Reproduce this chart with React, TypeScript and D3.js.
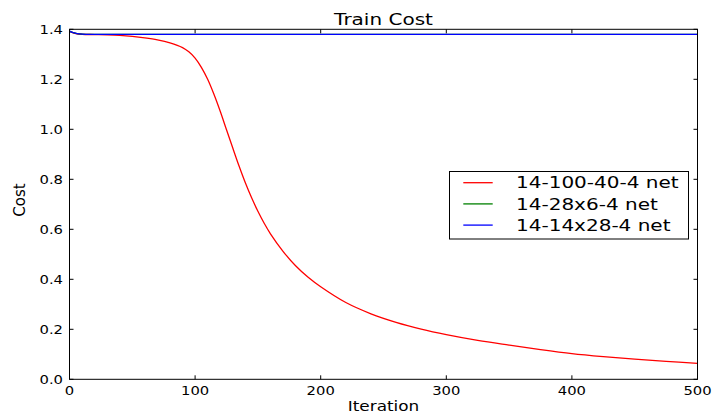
import * as d3 from 'd3';
import React, { useEffect, useRef } from 'react';

const seriesNames = ['14-100-40-4 net', '14-28x6-4 net', '14-14x28-4 net'];
const seriesColors = ['#ff0000', '#008000', '#0000ff'];

const redIter = [0, 5, 10, 20, 30, 40, 50, 60, 70, 80, 90, 95, 100, 105, 110, 115, 120, 125, 130, 135, 140, 145, 150, 155, 160, 170, 180, 190, 200, 220, 240, 260, 280, 300, 325, 350, 375, 400, 425, 450, 475, 500];
const redCost = [1.392, 1.383, 1.38, 1.379, 1.378, 1.376, 1.372, 1.366, 1.358, 1.346, 1.327, 1.31, 1.285, 1.248, 1.2, 1.14, 1.072, 0.998, 0.925, 0.853, 0.786, 0.726, 0.672, 0.624, 0.582, 0.512, 0.454, 0.408, 0.37, 0.307, 0.262, 0.228, 0.201, 0.179, 0.156, 0.137, 0.119, 0.103, 0.091, 0.081, 0.072, 0.064];

const flatIter = [0, 3, 6, 10, 20, 50, 100, 200, 300, 400, 500];
const greenCost = [1.393, 1.387, 1.383, 1.381, 1.38, 1.38, 1.38, 1.38, 1.38, 1.38, 1.38];
const blueCost = [1.393, 1.387, 1.383, 1.381, 1.38, 1.38, 1.38, 1.38, 1.38, 1.38, 1.38];

const xTicks = [0, 100, 200, 300, 400, 500];
const yTicks = [0.0, 0.2, 0.4, 0.6, 0.8, 1.0, 1.2, 1.4];

const App = () => {
    const ref = useRef(null);

    useEffect(() => {
        const width = 714;
        const height = 412;
        const plot = { left: 69.5, right: 697.5, top: 29.3, bottom: 379.3 };
        const font = 'DejaVu Sans, sans-serif';
        const stretch = 1.23;

        const svg = d3.select(ref.current);
        svg.selectAll('*').remove();
        svg.attr('width', width).attr('height', height);

        const x = d3.scaleLinear().domain([0, 500]).range([plot.left, plot.right]);
        const y = d3.scaleLinear().domain([0, 1.4]).range([plot.bottom, plot.top]);

        // stretched text helper (the reference is widened horizontally)
        const label = (tx, ty, str, size, anchor, sx = stretch) =>
            svg.append('text')
                .attr('transform', `translate(${tx},${ty}) scale(${sx},1)`)
                .attr('text-anchor', anchor)
                .attr('font-family', font)
                .attr('font-size', size)
                .attr('fill', '#000')
                .text(str);

        svg.append('clipPath').attr('id', 'plotclip')
            .append('rect')
            .attr('x', plot.left).attr('y', plot.top - 2)
            .attr('width', plot.right - plot.left).attr('height', plot.bottom - plot.top + 2);

        const line = d3.line()
            .x(d => x(d[0]))
            .y(d => y(d[1]))
            .curve(d3.curveCatmullRom.alpha(0.5));

        const series = [
            redIter.map((it, i) => [it, redCost[i]]),
            flatIter.map((it, i) => [it, greenCost[i]]),
            flatIter.map((it, i) => [it, blueCost[i]]),
        ];

        series.forEach((pts, i) => {
            svg.append('path')
                .attr('d', line(pts))
                .attr('fill', 'none')
                .attr('stroke', seriesColors[i])
                .attr('stroke-width', 1.3)
                .attr('clip-path', 'url(#plotclip)');
        });

        // ticks, pointing inward on all four sides
        xTicks.forEach(t => {
            svg.append('line').attr('x1', x(t)).attr('x2', x(t))
                .attr('y1', plot.bottom).attr('y2', plot.bottom - 4).attr('stroke', '#000');
            svg.append('line').attr('x1', x(t)).attr('x2', x(t))
                .attr('y1', plot.top).attr('y2', plot.top + 4).attr('stroke', '#000');
            label(x(t), 395, String(t), 12, 'middle');
        });
        yTicks.forEach(t => {
            svg.append('line').attr('x1', plot.left).attr('x2', plot.left + 4)
                .attr('y1', y(t)).attr('y2', y(t)).attr('stroke', '#000');
            svg.append('line').attr('x1', plot.right).attr('x2', plot.right - 4)
                .attr('y1', y(t)).attr('y2', y(t)).attr('stroke', '#000');
            label(63, y(t) + 4.4, t.toFixed(1), 12, 'end');
        });

        svg.append('rect')
            .attr('x', plot.left).attr('y', plot.top)
            .attr('width', plot.right - plot.left).attr('height', plot.bottom - plot.top)
            .attr('fill', 'none').attr('stroke', '#000').attr('stroke-width', 1);

        label((plot.left + plot.right) / 2, 25, 'Train Cost', 16, 'middle', 1.25);
        label((plot.left + plot.right) / 2, 411, 'Iteration', 13.5, 'middle', 1.25);

        svg.append('text')
            .attr('transform', 'translate(25,200) rotate(-90)')
            .attr('text-anchor', 'middle')
            .attr('font-family', font)
            .attr('font-size', 15)
            .text('Cost');

        // legend
        const lg = { x: 449.5, y: 171.5, w: 239, h: 67.5 };
        svg.append('rect')
            .attr('x', lg.x).attr('y', lg.y).attr('width', lg.w).attr('height', lg.h)
            .attr('fill', '#fff').attr('stroke', '#000').attr('stroke-width', 1);
        seriesNames.forEach((name, i) => {
            const ry = 182.7 + i * 21.2;
            svg.append('line')
                .attr('x1', 463.3).attr('x2', 492.7)
                .attr('y1', ry).attr('y2', ry)
                .attr('stroke', seriesColors[i]).attr('stroke-width', 1.3);
            label(516, ry + 5.7, name, 16, 'start', 1.25);
        });
    }, []);

    return <svg ref={ref} style={{ position: 'absolute', left: 0, top: 0 }}></svg>;
};

export default App;
